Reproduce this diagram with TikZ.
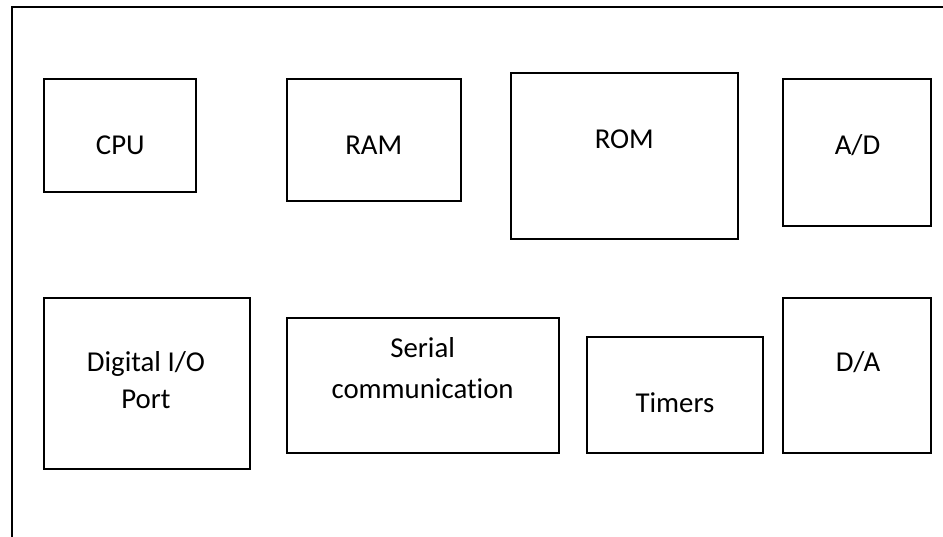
\documentclass[tikz,border=0pt]{standalone}
\usepackage{fontspec}
\setmainfont[Ligatures=NoCommon]{Carlito}
\begin{document}
\begin{tikzpicture}[x=0.75pt,y=-0.75pt,
  block/.style={draw=black,line width=1.3pt},
  frame/.style={draw=black,line width=1.8pt},
  lbl/.style={anchor=base,inner sep=0pt,font=\fontsize{21.6pt}{26pt}\selectfont}]
  \useasboundingbox (0,0) rectangle (943,536);
  \clip (0,0) rectangle (943,536);
  % outer board outline
  \draw[frame] (12,7) rectangle (980,580);
  % top row of blocks
  \draw[block] (44,79) rectangle (196,192);
  \draw[block] (287,79) rectangle (461,201);
  \draw[block] (511,73) rectangle (738,239);
  \draw[block] (783,79) rectangle (931,226);
  % bottom row of blocks
  \draw[block] (44,298) rectangle (250,469);
  \draw[block] (287,318) rectangle (559,453);
  \draw[block] (587,337) rectangle (763,453);
  \draw[block] (783,298) rectangle (931,453);
  % labels
  \node[lbl] (cpu) at (120.3,154) {CPU};
  \node[lbl] (ram) at (373.8,154) {RAM};
  \node[lbl] (rom) at (624.3,148) {ROM};
  \node[lbl] (ad) at (857.5,154) {A/D};
  \node[lbl] (dio1) at (146,371.7) {Digital I/O};
  \node[lbl] (dio2) at (146,408.3) {Port};
  \node[lbl] (ser1) at (422.6,357.3) {Serial};
  \node[lbl] (ser2) at (422.6,398.3) {communication};
  \node[lbl] (tim) at (675,412.7) {Timers};
  \node[lbl] (da) at (858,371.7) {D/A};
\end{tikzpicture}
\end{document}
